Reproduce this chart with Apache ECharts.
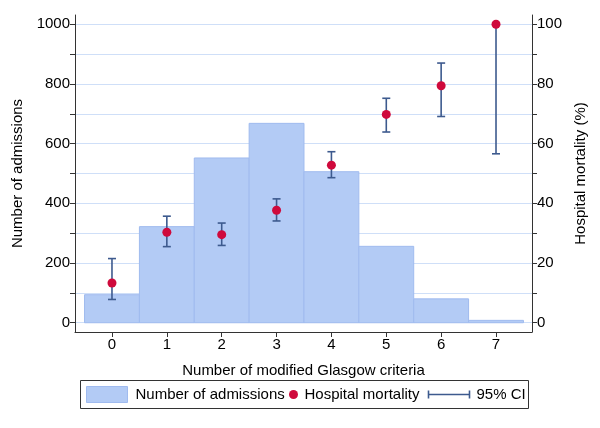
<!DOCTYPE html>
<html>
<head>
<meta charset="utf-8">
<script src="https://cdn.jsdelivr.net/npm/echarts@6/dist/echarts.min.js"></script>
<style>html,body{margin:0;padding:0;background:#fff}#c{width:600px;height:428px}</style>
</head>
<body>
<div id="c"></div>
<script>
const categories = [0, 1, 2, 3, 4, 5, 6, 7];
const admissions = [94, 322, 552, 668, 506, 256, 80, 8];
const mortality = [13.3, 30.3, 29.5, 37.7, 52.8, 69.8, 79.4, 100];
const ciLow = [7.8, 25.5, 25.9, 34.1, 48.6, 63.9, 69.1, 56.6];
const ciHigh = [21.5, 35.7, 33.4, 41.5, 57.3, 75.2, 87.0, 100];
const leftTicks = [0, 100, 200, 300, 400, 500, 600, 700, 800, 900, 1000];
const leftLabels = [0, 200, 400, 600, 800, 1000];
const rightTicks = [0, 10, 20, 30, 40, 50, 60, 70, 80, 90, 100];
const rightLabels = [0, 20, 40, 60, 80, 100];
const legendNames = ['Number of admissions', 'Hospital mortality', '95% CI'];

const FONT = '"Liberation Sans", Arial, Helvetica, sans-serif';
const FS = 15;
const AXIS = '#333333';
const BAR = '#b3cbf5';
const BAR_EDGE = '#a0bbef';
const RED = '#cf0a3c';
const CI = '#3d5a8e';

const chart = echarts.init(document.getElementById('c'), null, {renderer: 'canvas'});

const axisCommon = {
  axisLine: {show: true, onZero: false, lineStyle: {color: AXIS, width: 1}},
  axisTick: {show: true, length: 5, lineStyle: {color: AXIS}},
  axisLabel: {color: '#000', fontFamily: FONT, fontSize: FS, formatter: v => String(v)},
  nameTextStyle: {color: '#000', fontFamily: FONT, fontSize: FS}
};

const option = {
  animation: false,
  grid: {left: 75, right: 68, top: 15, bottom: 96, containLabel: false},
  xAxis: {
    type: 'value', min: -0.674, max: 7.656,
    name: 'Number of modified Glasgow criteria', nameLocation: 'middle', nameGap: 31,
    axisLine: axisCommon.axisLine,
    axisTick: Object.assign({}, axisCommon.axisTick, {customValues: categories}),
    axisLabel: Object.assign({}, axisCommon.axisLabel, {customValues: categories, margin: 5}),
    nameTextStyle: axisCommon.nameTextStyle,
    splitLine: {show: false}
  },
  yAxis: [{
    type: 'value', min: -31, max: 1031, position: 'left',
    name: 'Number of admissions', nameLocation: 'middle', nameGap: 42, nameRotate: 90,
    axisLine: axisCommon.axisLine,
    axisTick: Object.assign({}, axisCommon.axisTick, {customValues: leftTicks}),
    axisLabel: Object.assign({}, axisCommon.axisLabel, {customValues: leftLabels, margin: 5}),
    nameTextStyle: axisCommon.nameTextStyle,
    splitLine: {show: true, lineStyle: {color: '#cfdff8', width: 1}}
  }, {
    type: 'value', min: -3.1, max: 103.1, position: 'right',
    name: 'Hospital mortality (%)', nameLocation: 'middle', nameGap: 40, nameRotate: 90,
    axisLine: axisCommon.axisLine,
    axisTick: Object.assign({}, axisCommon.axisTick, {customValues: rightTicks}),
    axisLabel: Object.assign({}, axisCommon.axisLabel, {customValues: rightLabels, margin: 5}),
    nameTextStyle: axisCommon.nameTextStyle,
    splitLine: {show: false}
  }],
  series: [{
    name: legendNames[0],
    type: 'custom',
    xAxisIndex: 0, yAxisIndex: 0,
    data: categories.map((c, i) => [c, admissions[i]]),
    z: 2,
    renderItem: function (params, api) {
      const x = api.value(0), v = api.value(1);
      const p0 = api.coord([x - 0.5, v]);
      const p1 = api.coord([x + 0.5, 0]);
      return {
        type: 'rect',
        shape: {x: p0[0], y: p0[1], width: p1[0] - p0[0], height: p1[1] - p0[1]},
        style: {fill: BAR, stroke: BAR_EDGE, lineWidth: 1}
      };
    }
  }, {
    name: legendNames[2],
    type: 'custom',
    xAxisIndex: 0, yAxisIndex: 1,
    data: categories.map((c, i) => [c, ciLow[i], ciHigh[i]]),
    z: 3,
    renderItem: function (params, api) {
      const x = api.value(0);
      const lo = api.coord([x, api.value(1)]);
      const hi = api.coord([x, api.value(2)]);
      const hw = 4;
      const st = {stroke: CI, lineWidth: 1.6};
      return {
        type: 'group',
        children: [
          {type: 'line', shape: {x1: lo[0], y1: lo[1], x2: hi[0], y2: hi[1]}, style: st},
          {type: 'line', shape: {x1: lo[0] - hw, y1: lo[1], x2: lo[0] + hw, y2: lo[1]}, style: st},
          {type: 'line', shape: {x1: hi[0] - hw, y1: hi[1], x2: hi[0] + hw, y2: hi[1]}, style: st}
        ]
      };
    }
  }, {
    name: legendNames[1],
    type: 'scatter',
    xAxisIndex: 0, yAxisIndex: 1,
    data: categories.map((c, i) => [c, mortality[i]]),
    symbol: 'circle', symbolSize: 9,
    itemStyle: {color: RED, opacity: 1},
    z: 4
  }],
  graphic: [{
    type: 'group', left: 80, top: 380,
    children: [
      {type: 'rect', shape: {x: 0, y: 0, width: 448, height: 28}, style: {fill: '#fff', stroke: AXIS, lineWidth: 1}},
      {type: 'rect', shape: {x: 6, y: 6, width: 41, height: 16}, style: {fill: BAR, stroke: BAR_EDGE, lineWidth: 1}},
      {type: 'text', x: 55, y: 14, style: {text: legendNames[0], font: FS + 'px ' + FONT, fill: '#000', verticalAlign: 'middle'}},
      {type: 'circle', shape: {cx: 213, cy: 14, r: 4.5}, style: {fill: RED}},
      {type: 'text', x: 224, y: 14, style: {text: legendNames[1], font: FS + 'px ' + FONT, fill: '#000', verticalAlign: 'middle'}},
      {type: 'line', shape: {x1: 348, y1: 14, x2: 389, y2: 14}, style: {stroke: CI, lineWidth: 1.6}},
      {type: 'line', shape: {x1: 348, y1: 10, x2: 348, y2: 18}, style: {stroke: CI, lineWidth: 1.6}},
      {type: 'line', shape: {x1: 389, y1: 10, x2: 389, y2: 18}, style: {stroke: CI, lineWidth: 1.6}},
      {type: 'text', x: 396, y: 14, style: {text: legendNames[2], font: FS + 'px ' + FONT, fill: '#000', verticalAlign: 'middle'}}
    ]
  }]
};
chart.setOption(option);
</script>
</body>
</html>
